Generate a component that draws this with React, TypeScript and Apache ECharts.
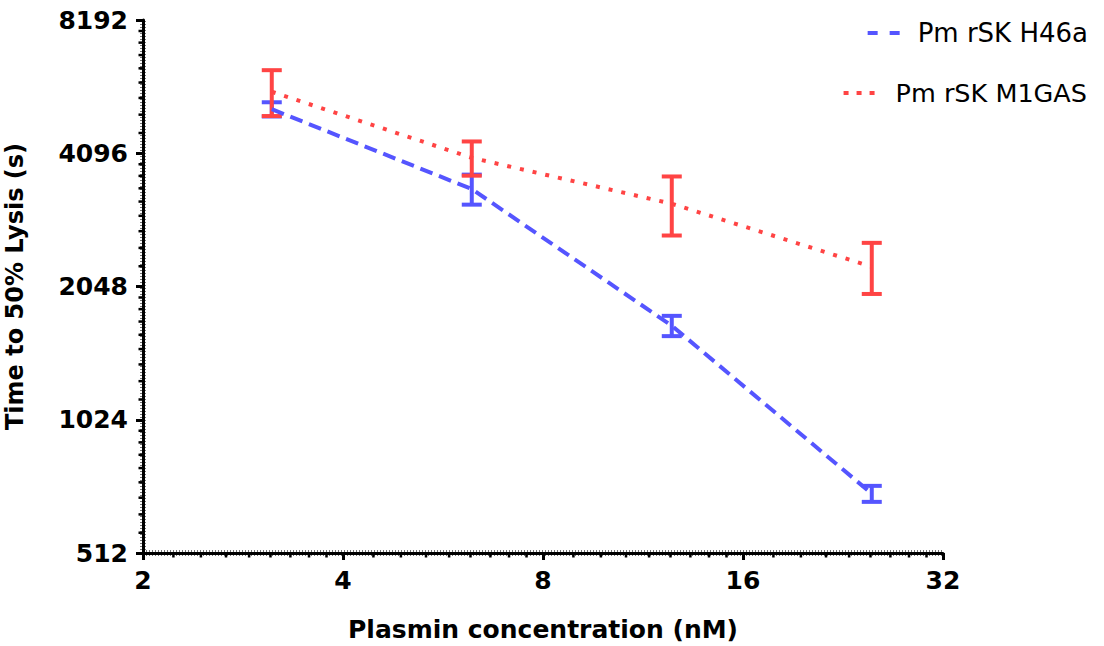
import React, { useEffect, useRef } from 'react';
import * as echarts from 'echarts';

// ---- data ----
const concentrations = [3.125, 6.25, 12.5, 25];
const h46aMean = [5150, 3400, 1670, 697];
const h46aErr = [190, 265, 88, 29];
const m1gasMean = [5640, 4000, 3150, 2270];
const m1gasErr = [670, 355, 480, 300];
const xTicks = [2, 4, 8, 16, 32];
const yTicks = [512, 1024, 2048, 4096, 8192];
const seriesNames = ['Pm rSK H46a', 'Pm rSK M1GAS'];

const BLUE = '#5555FF';
const RED = '#FF4444';
const FONT = 'DejaVu Sans';

// minor ticks: 8 linearly spaced values inside every doubling
const minorOf = (ticks: number[]) => {
  const out: number[] = [];
  for (let i = 0; i < ticks.length - 1; i++) {
    const a = ticks[i];
    for (let k = 1; k <= 8; k++) out.push(a + (k * a) / 9);
  }
  return out;
};
const xMinor = minorOf(xTicks);
const yMinor = minorOf(yTicks);
const xMin = xTicks[0];
const xMax = xTicks[xTicks.length - 1];
const yMin = yTicks[0];
const yMax = yTicks[yTicks.length - 1];

const errRender = (color: string) => (params: any, api: any) => {
  const x = api.value(0);
  const m = api.value(1);
  const e = api.value(2);
  const top = api.coord([x, m + e]);
  const bot = api.coord([x, m - e]);
  const hw = 10;
  const style = { stroke: color, lineWidth: 4, fill: 'none' };
  return {
    type: 'group',
    children: [
      { type: 'line', shape: { x1: top[0], y1: top[1], x2: bot[0], y2: bot[1] }, style },
      { type: 'line', shape: { x1: top[0] - hw, y1: top[1], x2: top[0] + hw, y2: top[1] }, style },
      { type: 'line', shape: { x1: bot[0] - hw, y1: bot[1], x2: bot[0] + hw, y2: bot[1] }, style },
    ],
  };
};

export default function App() {
  const ref = useRef<HTMLDivElement>(null);
  useEffect(() => {
    if (!ref.current) return;
    const chart = echarts.init(ref.current, undefined, { renderer: 'svg' });
    const labelStyle = { fontFamily: FONT, fontWeight: 'bold' as const, fontSize: 25, color: '#000' };
    const legendBase = {
      orient: 'horizontal' as const,
      right: 16,
      padding: 0,
      itemWidth: 33,
      itemHeight: 14,
      itemStyle: { opacity: 0 },
    };
    chart.setOption({
      animation: false,
      backgroundColor: '#fff',
      grid: {
        left: 143,
        top: 20,
        right: 161,
        bottom: 93,
        containLabel: false,
        outerBoundsMode: 'none',
      },
      legend: [
        {
          ...legendBase,
          data: [seriesNames[0]],
          top: 20,
          lineStyle: { color: BLUE, width: 4, type: [10, 12] },
          textStyle: { fontFamily: FONT, fontSize: 26, color: '#000', padding: [0, 0, 0, 12] },
        },
        {
          ...legendBase,
          data: [seriesNames[1]],
          top: 80,
          right: 17,
          itemWidth: 32,
          lineStyle: { color: RED, width: 4, type: [5, 8] },
          textStyle: { fontFamily: FONT, fontSize: 25.5, color: '#000', padding: [0, 0, 0, 15] },
        },
      ],
      xAxis: {
        type: 'log',
        logBase: 2,
        min: xMin,
        max: xMax,
        interval: 1,
        name: 'Plasmin concentration (nM)',
        nameLocation: 'middle',
        nameGap: 64,
        nameTextStyle: { ...labelStyle },
        axisLine: { lineStyle: { color: '#000', width: 3 } },
        axisTick: { length: 7, lineStyle: { color: '#000', width: 3 } },
        axisLabel: { ...labelStyle, margin: 15, formatter: (v: number) => String(Math.round(v)) },
        splitLine: { show: false },
      },
      yAxis: {
        type: 'log',
        logBase: 2,
        min: yMin,
        max: yMax,
        interval: 1,
        name: 'Time to 50% Lysis (s)',
        nameLocation: 'middle',
        nameGap: 116,
        nameTextStyle: { ...labelStyle, fontSize: 24 },
        axisLine: { lineStyle: { color: '#000', width: 3 } },
        axisTick: { length: 7, lineStyle: { color: '#000', width: 3 } },
        axisLabel: { ...labelStyle, margin: 15, formatter: (v: number) => String(Math.round(v)) },
        splitLine: { show: false },
      },
      series: [
        {
          // fine texture along both axis lines
          type: 'custom',
          name: 'axisTexture',
          silent: true,
          data: [[xMin, yMin]],
          encode: { x: 0, y: 1 },
          renderItem: (p: any, api: any) => {
            const o = api.coord([xMin, yMin]);
            const xe = api.coord([xMax, yMin]);
            const ye = api.coord([xMin, yMax]);
            const style = { stroke: '#000', lineWidth: 6, lineDash: [1, 2], opacity: 0.55 };
            return {
              type: 'group',
              children: [
                { type: 'line', shape: { x1: o[0], y1: o[1], x2: xe[0], y2: xe[1] }, style },
                { type: 'line', shape: { x1: o[0], y1: o[1], x2: ye[0], y2: ye[1] }, style },
              ],
            };
          },
        },
        {
          type: 'custom',
          name: 'xMinor',
          silent: true,
          data: xMinor.map((v) => [v, yMin]),
          encode: { x: 0, y: 1 },
          renderItem: (p: any, api: any) => {
            const c = api.coord([api.value(0), api.value(1)]);
            return {
              type: 'line',
              shape: { x1: c[0], y1: c[1] - 1, x2: c[0], y2: c[1] + 4.5 },
              style: { stroke: '#000', lineWidth: 2.5 },
            };
          },
        },
        {
          type: 'custom',
          name: 'yMinor',
          silent: true,
          data: yMinor.map((v) => [xMin, v]),
          encode: { x: 0, y: 1 },
          renderItem: (p: any, api: any) => {
            const c = api.coord([api.value(0), api.value(1)]);
            return {
              type: 'line',
              shape: { x1: c[0] - 4.5, y1: c[1], x2: c[0] + 1, y2: c[1] },
              style: { stroke: '#000', lineWidth: 2.5 },
            };
          },
        },
        {
          type: 'line',
          name: seriesNames[0],
          data: concentrations.map((x, i) => [x, h46aMean[i]]),
          symbol: 'none',
          color: BLUE,
          lineStyle: { color: BLUE, width: 4, type: [13, 7] },
        },
        {
          type: 'custom',
          name: 'H46a SD',
          data: concentrations.map((x, i) => [x, h46aMean[i], h46aErr[i]]),
          encode: { x: 0, y: 1 },
          renderItem: errRender(BLUE),
        },
        {
          type: 'line',
          name: seriesNames[1],
          data: concentrations.map((x, i) => [x, m1gasMean[i]]),
          symbol: 'none',
          color: RED,
          lineStyle: { color: RED, width: 4, type: [4, 9] },
        },
        {
          type: 'custom',
          name: 'M1GAS SD',
          data: concentrations.map((x, i) => [x, m1gasMean[i], m1gasErr[i]]),
          encode: { x: 0, y: 1 },
          renderItem: errRender(RED),
        },
      ],
    });
    return () => chart.dispose();
  }, []);
  return (
    <div
      ref={ref}
      style={{ position: 'absolute', left: 0, top: 0, width: 1104, height: 646, background: '#fff' }}
    />
  );
}
